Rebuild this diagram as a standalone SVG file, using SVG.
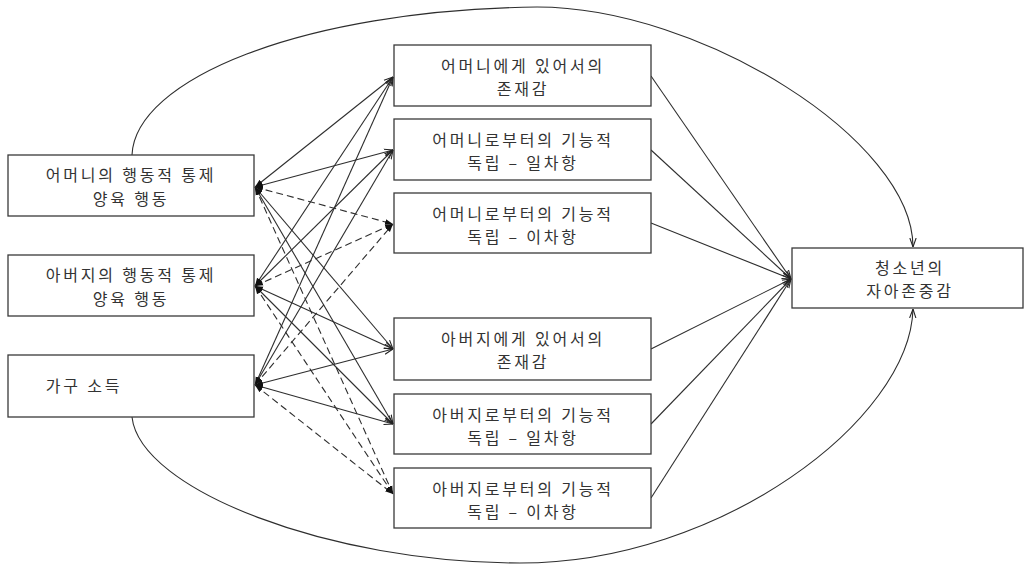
<svg xmlns="http://www.w3.org/2000/svg" width="1026" height="566" viewBox="0 0 1026 566">
<defs>
<style>
.box{fill:#fff;stroke:#3a3a3a;stroke-width:1.3}
.t{font-family:"Noto Sans CJK KR","Noto Sans",sans-serif;font-size:16px;fill:#333;letter-spacing:2.8px;text-anchor:middle}
.ln{fill:none;stroke:#2e2e2e;stroke-width:1.1;marker-end:url(#ah)}
.both{marker-start:url(#ahf)}
.d{stroke-dasharray:7 4;marker-end:url(#ahf)}
</style>
<marker id="ah" viewBox="0 0 10 10" refX="10" refY="5" markerWidth="9" markerHeight="9" orient="auto-start-reverse" markerUnits="userSpaceOnUse">
<path d="M0,1.5 L10,5 L0,8.5" fill="none" stroke="#222" stroke-width="1.2"/>
</marker>
<marker id="ahf" viewBox="0 0 10 10" refX="10" refY="5" markerWidth="8" markerHeight="8" orient="auto-start-reverse" markerUnits="userSpaceOnUse">
<path d="M0,1.5 L10,5 L0,8.5 Z" fill="#111" stroke="none"/>
</marker>
</defs>
<rect width="1026" height="566" fill="#fff"/>
<g id="connectors">
<path class="ln" d="M132,155 C135,80 300,10 537,7 C700,7 913,140 913,247"/>
<path class="ln" d="M132,417 C140,490 330,563 520,563 C720,563 910,420 913,309"/>
<path class="ln both" d="M255,187 L393,77"/>
<path class="ln both" d="M255,187 L393,150"/>
<path class="ln both d" d="M255,187 L393,224"/>
<path class="ln both" d="M255,187 L393,349"/>
<path class="ln both" d="M255,187 L393,424"/>
<path class="ln both d" d="M255,187 L393,494"/>
<path class="ln both" d="M255,286 L393,77"/>
<path class="ln both" d="M255,286 L393,150"/>
<path class="ln both d" d="M255,286 L393,224"/>
<path class="ln both" d="M255,286 L393,349"/>
<path class="ln both" d="M255,286 L393,424"/>
<path class="ln both d" d="M255,286 L393,494"/>
<path class="ln both" d="M255,385 L393,77"/>
<path class="ln both" d="M255,385 L393,150"/>
<path class="ln both d" d="M255,385 L393,224"/>
<path class="ln both" d="M255,385 L393,349"/>
<path class="ln both" d="M255,385 L393,424"/>
<path class="ln both d" d="M255,385 L393,494"/>
<path class="ln" d="M651,76 L791,279"/>
<path class="ln" d="M651,150 L791,279"/>
<path class="ln" d="M651,223 L791,279"/>
<path class="ln" d="M651,349 L791,279"/>
<path class="ln" d="M651,424 L791,279"/>
<path class="ln" d="M651,498 L791,279"/>
</g>
<g id="mother-control">
<rect class="box" x="8" y="155" width="246" height="61"/>
<text class="t" x="131" y="181">어머니의 행동적 통제</text>
<text class="t" x="131" y="205">양육 행동</text>
</g>
<g id="father-control">
<rect class="box" x="8" y="255" width="246" height="61"/>
<text class="t" x="131" y="281">아버지의 행동적 통제</text>
<text class="t" x="131" y="305">양육 행동</text>
</g>
<g id="income">
<rect class="box" x="8" y="355" width="246" height="62"/>
<text class="t" x="84" y="392">가구 소득</text>
</g>
<g id="m-presence">
<rect class="box" x="394" y="45" width="257" height="61"/>
<text class="t" x="523" y="72">어머니에게 있어서의</text>
<text class="t" x="523" y="95">존재감</text>
</g>
<g id="m-indep-1">
<rect class="box" x="394" y="119" width="257" height="61"/>
<text class="t" x="523" y="146">어머니로부터의 기능적</text>
<text class="t" x="523" y="169">독립 – 일차항</text>
</g>
<g id="m-indep-2">
<rect class="box" x="394" y="193" width="257" height="60"/>
<text class="t" x="523" y="220">어머니로부터의 기능적</text>
<text class="t" x="523" y="243">독립 – 이차항</text>
</g>
<g id="f-presence">
<rect class="box" x="394" y="318" width="257" height="62"/>
<text class="t" x="523" y="345">아버지에게 있어서의</text>
<text class="t" x="523" y="368">존재감</text>
</g>
<g id="f-indep-1">
<rect class="box" x="394" y="394" width="257" height="60"/>
<text class="t" x="523" y="421">아버지로부터의 기능적</text>
<text class="t" x="523" y="444">독립 – 일차항</text>
</g>
<g id="f-indep-2">
<rect class="box" x="394" y="468" width="257" height="60"/>
<text class="t" x="523" y="495">아버지로부터의 기능적</text>
<text class="t" x="523" y="518">독립 – 이차항</text>
</g>
<g id="self-esteem">
<rect class="box" x="792" y="248" width="231" height="60"/>
<text class="t" x="910" y="274">청소년의</text>
<text class="t" x="910" y="297">자아존중감</text>
</g>
</svg>
